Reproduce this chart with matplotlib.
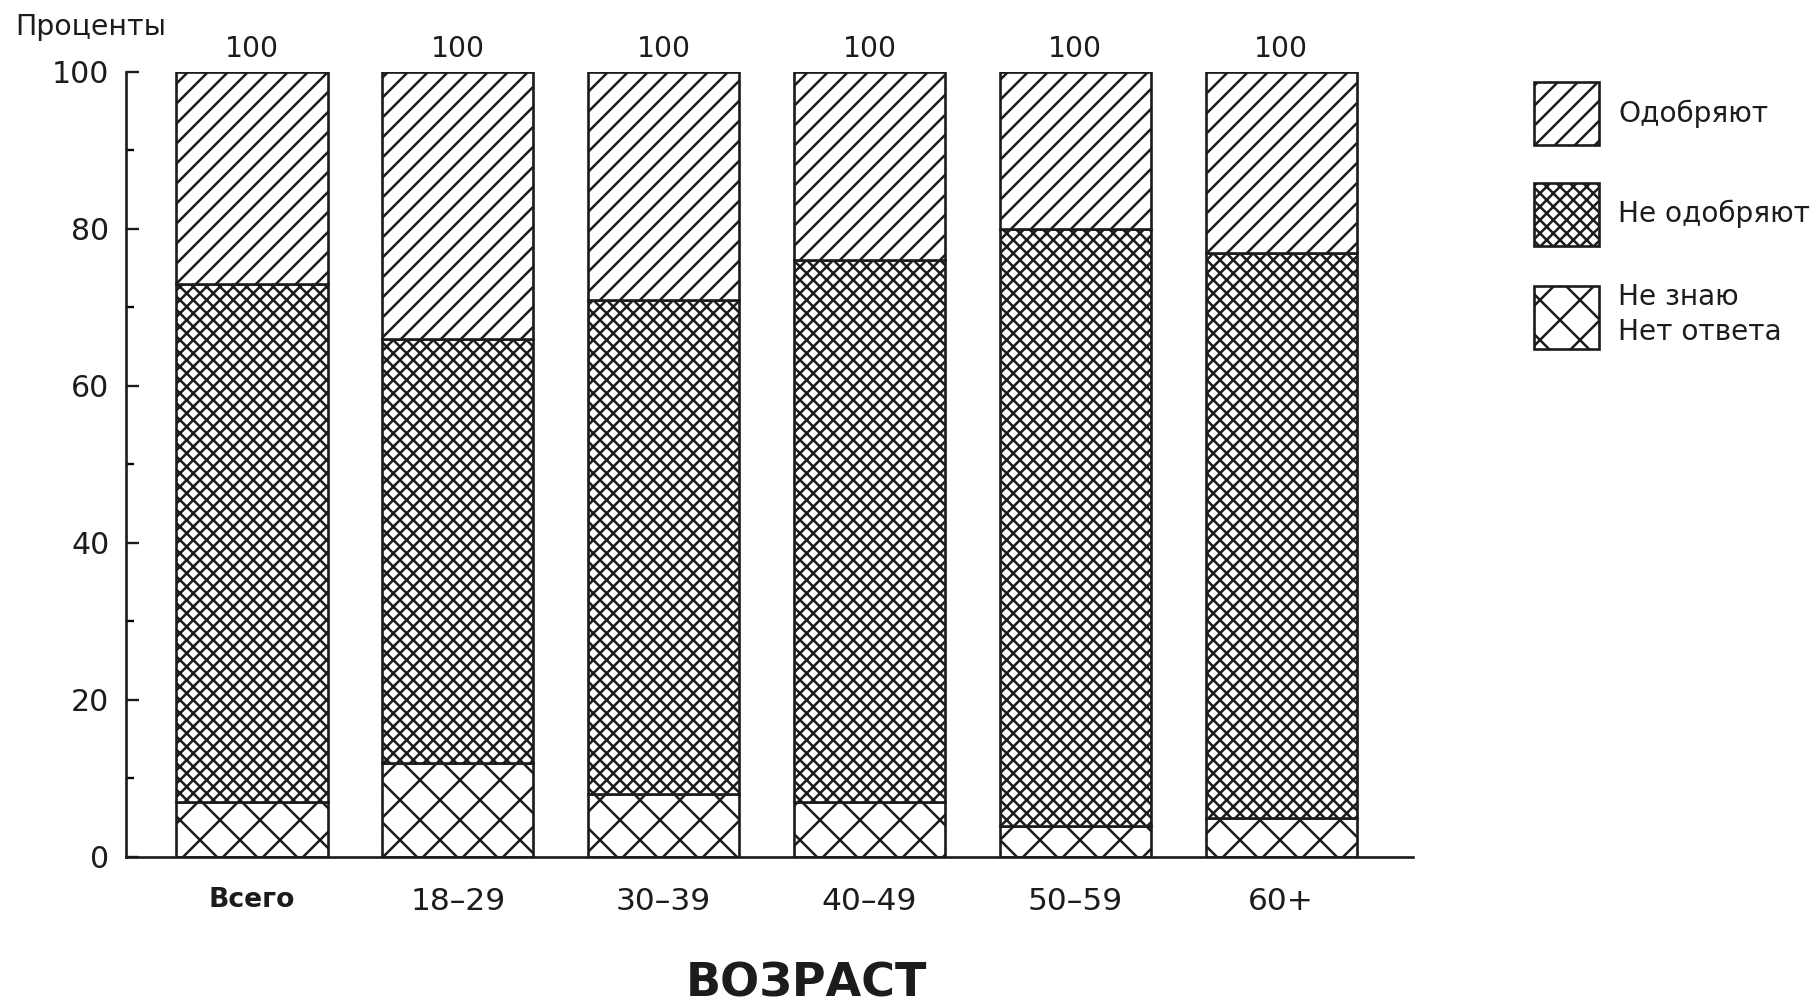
import numpy as np
import matplotlib
matplotlib.use("Agg")
import matplotlib.pyplot as plt
from matplotlib.ticker import MultipleLocator

# ----
# Data
# ----
groups = ["Всего", "18–29", "30–39", "40–49", "50–59", "60+"]
dont_know = [7, 12, 8, 7, 4, 5]
disapprove = [66, 54, 63, 69, 76, 72]
approve = [27, 34, 29, 24, 20, 23]
totals = [a + b + c for a, b, c in zip(dont_know, disapprove, approve)]

labels = ["Одобряют", "Не одобряют", "Не знаю\nНет ответа"]

# ------
# Styles
# ------
ink = "#1c1c1c"
plt.rcParams["font.family"] = ["DejaVu Sans"]
plt.rcParams["hatch.linewidth"] = 0.75
plt.rcParams["hatch.color"] = ink
plt.rcParams["text.color"] = ink

dpi = 240
fig = plt.figure(figsize=(1819 / dpi, 1005 / dpi), dpi=dpi)
ax = fig.add_axes([0.0693, 0.1473, 0.7075, 0.7811])

x = np.arange(len(groups))
width = 0.734
bar_kw = dict(width=width, color="white", edgecolor=ink, linewidth=0.8)

b_dk = ax.bar(x, dont_know, hatch="xx", **bar_kw)
b_dis = ax.bar(x, disapprove, bottom=dont_know, hatch="xxxxxx", **bar_kw)
bottom2 = np.array(dont_know) + np.array(disapprove)
b_app = ax.bar(x, approve, bottom=bottom2, hatch="////", **bar_kw)

# totals above the bars
for xi, t in zip(x, totals):
    ax.annotate(f"{t:.0f}", (xi, t), xytext=(0, 7), textcoords="offset points",
                ha="center", va="center", fontsize=8.5, annotation_clip=False)

# ----
# Axes
# ----
ax.set_xlim(-0.612, 5.641)
ax.set_ylim(0, 100)
ax.yaxis.set_major_locator(MultipleLocator(20))
ax.yaxis.set_minor_locator(MultipleLocator(10))
ax.tick_params(axis="y", which="major", direction="in", length=4, width=0.7,
               pad=5, labelsize=9, colors=ink)
ax.tick_params(axis="y", which="minor", direction="in", length=2.5, width=0.7)
ax.set_xticks(x)
ax.set_xticklabels(groups)
ax.tick_params(axis="x", length=0, pad=9, labelsize=9.4, colors=ink)
ax.get_xticklabels()[0].set_fontweight("bold")
ax.get_xticklabels()[0].set_fontsize(8)

for s in ["top", "right"]:
    ax.spines[s].set_visible(False)
for s in ["left", "bottom"]:
    ax.spines[s].set_linewidth(0.8)
    ax.spines[s].set_color(ink)

fig.text(15 / 1819, 1 - 27 / 1005, "Проценты", fontsize=8.5, ha="left", va="center")
fig.text(806 / 1819, 1 - 984 / 1005, "ВОЗРАСТ", fontsize=13.8, fontweight="bold",
         ha="center", va="center")

# ------
# Legend
# ------
leg = fig.legend([b_app, b_dis, b_dk], labels, loc="upper left",
                 bbox_to_anchor=(1534 / 1819, 1 - 82 / 1005), frameon=False,
                 fontsize=8.4, handlelength=2.32, handleheight=3.08,
                 handletextpad=0.68, labelspacing=1.35, borderpad=0,
                 borderaxespad=0)
leg.get_texts()[2].set_linespacing(1.3)

fig.savefig("out.png", dpi=dpi, facecolor="white")
